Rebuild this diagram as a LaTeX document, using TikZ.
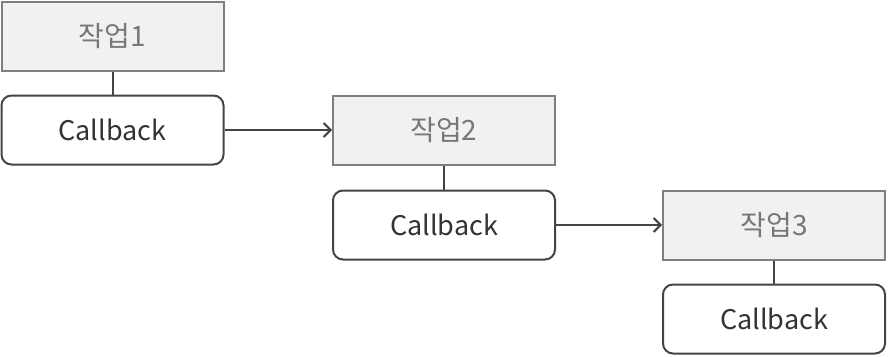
\documentclass[tikz,border=0pt]{standalone}
\usepackage{fontspec}
\setmainfont{Noto Sans CJK KR}
\usetikzlibrary{arrows.meta}
\definecolor{taskfill}{HTML}{F1F1F1}
\definecolor{taskdraw}{HTML}{7F7F7F}
\definecolor{tasktext}{HTML}{777777}
\definecolor{cbdraw}{HTML}{444444}
\definecolor{cbtext}{HTML}{333333}
\begin{document}
\begin{tikzpicture}[x=1pt,y=-1pt,
  taskbox/.style={draw=taskdraw,fill=taskfill,line width=2pt,minimum width=222pt,minimum height=69pt,inner sep=0pt,text=tasktext,font=\fontsize{28}{28}\selectfont},
  cbbox/.style={draw=cbdraw,fill=white,line width=2pt,rounded corners=10pt,minimum width=222pt,minimum height=69pt,inner sep=0pt,text=cbtext,font=\fontsize{27}{27}\selectfont},
  link/.style={draw=cbdraw,line width=2pt},
  arr/.style={draw=cbdraw,line width=2pt,-{Straight Barb[length=7pt,width=14pt,line width=2pt]}}]
\useasboundingbox (0,0) rectangle (888,356);
\node[taskbox] (t1) at (112.5,36) {작업1};
\node[cbbox] (c1) at (112.5,130) {Callback};
\node[taskbox] (t2) at (444,130) {작업2};
\node[cbbox] (c2) at (444,225) {Callback};
\node[taskbox] (t3) at (774,225) {작업3};
\node[cbbox] (c3) at (774,319) {Callback};
\draw[link] (t1) -- (c1);
\draw[link] (t2) -- (c2);
\draw[link] (t3) -- (c3);
\draw[arr] (c1) -- (t2);
\draw[arr] (c2) -- (t3);
\end{tikzpicture}
\end{document}
